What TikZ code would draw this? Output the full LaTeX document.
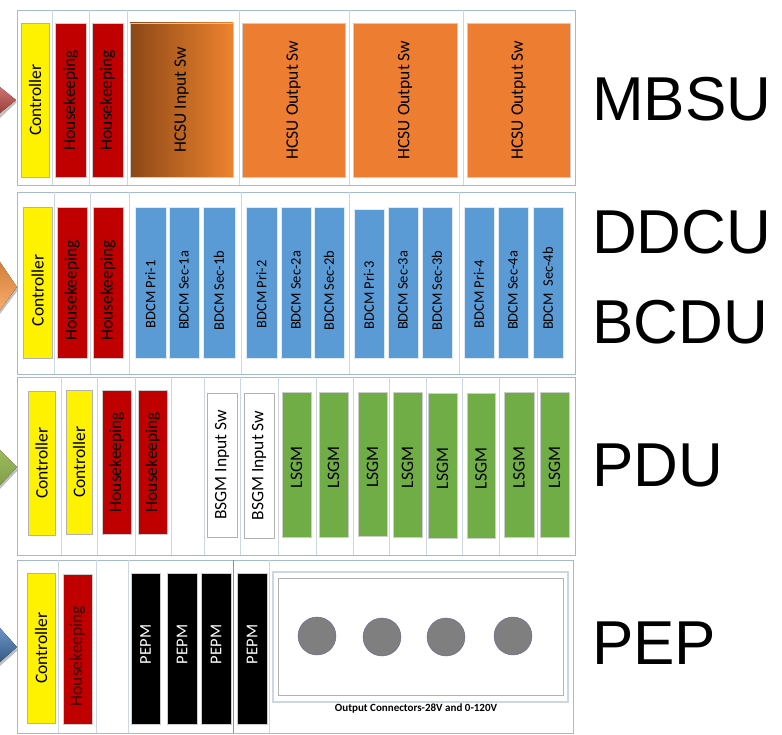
\documentclass[tikz,border=0pt]{standalone}
\usepackage{fontspec}
\setmainfont{Liberation Sans}
\newfontfamily\carl{Carlito}
\definecolor{framec}{RGB}{165,185,208}
\definecolor{divc}{RGB}{205,215,226}
\definecolor{hkred}{RGB}{192,0,0}
\definecolor{hcorange}{RGB}{237,125,49}
\definecolor{hcdark}{RGB}{140,72,22}
\definecolor{bdblue}{RGB}{91,155,213}
\definecolor{lsgreen}{RGB}{112,173,71}
\definecolor{conngray}{RGB}{127,127,127}
\definecolor{arrred}{RGB}{192,80,77}
\definecolor{arrorange}{RGB}{247,150,70}
\definecolor{arrgreen}{RGB}{155,187,89}
\definecolor{arrblue}{RGB}{79,129,189}

% \blk[text shift]{box style}{text style}{name}{x1}{y1}{x2}{y2}{text}
\newcommand\blk[9][0]{%
  \node[#2, minimum width={(#7-#5)*1pt}, minimum height={(#8-#6)*1pt}]
    (#4) at ({(#5+#7)/2},{(#6+#8)/2}) {};
  \node[lbl, #3, rotate=90] (#4-t) at ({(#5+#7)/2},{(#6+#8)/2+#1}) {#9};
}

\begin{document}
\begin{tikzpicture}[x=1pt,y=-1pt,
  frame/.style={draw=framec, line width=0.8pt},
  divline/.style={draw=divc, line width=0.7pt},
  modbox/.style={draw=black!20, line width=0.5pt, inner sep=0pt, outer sep=0pt},
  ctrl/.style={modbox, fill=yellow, draw=black!30},
  hk/.style={modbox, fill=hkred},
  hcin/.style={modbox, left color=hcdark, right color=hcorange!95!yellow},
  hcout/.style={modbox, fill=hcorange},
  bdcm/.style={modbox, fill=bdblue, draw=white!80!bdblue},
  bsgm/.style={modbox, fill=white, draw=black!30},
  lsgm/.style={modbox, fill=lsgreen, draw=black!20},
  pepm/.style={modbox, fill=black},
  lbl/.style={inner sep=0pt, font=\carl\fontsize{17.5}{17.5}\selectfont, text=black},
  small/.style={font=\carl\fontsize{14.5}{14.5}\selectfont},
  wtext/.style={text=white, font=\carl\fontsize{16.5}{16.5}\selectfont},
  bigname/.style={inner sep=0pt, anchor=west, font=\fontsize{62}{62}\selectfont},
  conn/.style={circle, fill=conngray, draw=conngray!80!blue, line width=0.4pt,
    minimum size=38pt, inner sep=0pt}
]
\useasboundingbox (0,0) rectangle (782,735);

% ---------- incoming arrow heads on the left edge ----------
\fill[black!25] (0,92) -- (17,102) -- (0,118) -- cycle;
\fill[top color=arrred!80, bottom color=arrred!80!black] (0,87) -- (16,100) -- (0,113) -- cycle;
\fill[black!25] (0,266) -- (18,290) -- (0,314) -- cycle;
\fill[top color=arrorange!85!black, bottom color=arrorange!80!white] (0,262) -- (17,287) -- (0,310) -- cycle;
\fill[black!25] (0,454) -- (18,470) -- (0,489) -- cycle;
\fill[top color=arrgreen, bottom color=arrgreen!85!black] (0,450) -- (17,467) -- (0,485) -- cycle;
\fill[black!25] (0,632) -- (18,650) -- (0,666) -- cycle;
\fill[top color=arrblue!85!white, bottom color=arrblue!70!black] (0,628) -- (17,647) -- (0,662) -- cycle;

% ---------- rack frames ----------
\draw[frame] (17,10) rectangle (575,185);
\foreach \x in {52,89,127,239,349,463} \draw[divline] (\x,10) -- (\x,185);
\draw[frame] (17,192) rectangle (575,374);
\foreach \x in {54,90,129,241,349,459} \draw[divline] (\x,192) -- (\x,374);
\draw[frame] (17,377) rectangle (575,555);
\foreach \x in {61,97,135,171,204,240,278,316,353,389,426,462,499,537} \draw[divline] (\x,377) -- (\x,555);
\draw[frame] (17,560) rectangle (573,733);
\foreach \x in {58,96,128,269} \draw[divline] (\x,560) -- (\x,733);
\draw[framec!80!black, line width=0.7pt] (233,560) -- (233,733);

% ---------- MBSU ----------
\blk{ctrl}{}{m1}{21}{23}{49}{177}{Controller}
\blk{hk}{}{m2}{55}{23}{86}{177}{Housekeeping}
\blk{hk}{}{m3}{92}{23}{123}{177}{Housekeeping}
\blk{hcin}{}{m4}{130}{23}{233}{177}{HCSU Input Sw}
\blk{hcout}{}{m5}{242}{23}{345}{177}{HCSU Output Sw}
\blk{hcout}{}{m6}{353}{23}{457}{177}{HCSU Output Sw}
\blk{hcout}{}{m7}{467}{23}{570}{177}{HCSU Output Sw}

% ---------- DDCU / BCDU ----------
\blk[8]{ctrl}{}{d1}{23}{207}{52}{358}{Controller}
\blk[8]{hk}{}{d2}{57}{207}{87}{358}{Housekeeping}
\blk[8]{hk}{}{d3}{93}{207}{123}{358}{Housekeeping}
\blk[12]{bdcm}{small}{d4}{135}{207}{166}{358}{BDCM Pri-1}
\blk[8]{bdcm}{small}{d5}{169}{207}{199}{358}{BDCM Sec-1a}
\blk[8]{bdcm}{small}{d6}{203}{207}{235}{358}{BDCM Sec-1b}
\blk[12]{bdcm}{small}{d7}{246}{207}{277}{358}{BDCM Pri-2}
\blk[8]{bdcm}{small}{d8}{281}{207}{311}{358}{BDCM Sec-2a}
\blk[8]{bdcm}{small}{d9}{314}{207}{344}{358}{BDCM Sec-2b}
\blk[12]{bdcm}{small}{d10}{354}{209}{384}{358}{BDCM Pri-3}
\blk[8]{bdcm}{small}{d11}{388}{207}{418}{358}{BDCM Sec-3a}
\blk[8]{bdcm}{small}{d12}{422}{207}{452}{358}{BDCM Sec-3b}
\blk[12]{bdcm}{small}{d13}{464}{207}{494}{358}{BDCM Pri-4}
\blk[8]{bdcm}{small}{d14}{498}{207}{528}{358}{BDCM Sec-4a}
\blk[6]{bdcm}{small}{d15}{533}{207}{563}{358}{BDCM\ \ Sec-4b}

% ---------- PDU ----------
\blk{ctrl}{}{p1}{28}{391}{55}{535}{Controller}
\blk{ctrl}{}{p2}{66}{390}{92}{534}{Controller}
\blk{hk}{}{p3}{102}{390}{131}{534}{Housekeeping}
\blk{hk}{}{p4}{138}{390}{167}{534}{Housekeeping}
\blk{bsgm}{}{p5}{207}{393}{237}{537}{BSGM Input Sw}
\blk{bsgm}{}{p6}{244}{393}{274}{538}{BSGM Input Sw}
\blk[3]{lsgm}{}{p7}{282}{392}{311}{537}{LSGM}
\blk[3]{lsgm}{}{p8}{319}{392}{348}{537}{LSGM}
\blk[3]{lsgm}{}{p9}{358}{392}{387}{536}{LSGM}
\blk[3]{lsgm}{}{p10}{393}{392}{422}{537}{LSGM}
\blk[3]{lsgm}{}{p11}{428}{393}{457}{538}{LSGM}
\blk[3]{lsgm}{}{p12}{467}{393}{495}{538}{LSGM}
\blk[3]{lsgm}{}{p13}{504}{392}{534}{537}{LSGM}
\blk[3]{lsgm}{}{p14}{540}{392}{569}{537}{LSGM}

% ---------- PEP ----------
\blk{ctrl}{}{e1}{27}{573}{55}{723}{Controller}
\blk[7]{hk}{text=hkred!30!black}{e2}{63}{574}{92}{724}{Housekeeping}
\blk[-4]{pepm}{wtext}{e3}{131}{573}{160}{724}{PEPM}
\blk[-4]{pepm}{wtext}{e4}{167}{573}{197}{724}{PEPM}
\blk[-4]{pepm}{wtext}{e5}{201}{573}{231}{724}{PEPM}
\blk[-4]{pepm}{wtext}{e6}{237}{573}{267}{724}{PEPM}

% output connector panel
\draw[draw=divc, line width=1.2pt] (273,572) rectangle (568,702);
\draw[draw=black!30, line width=0.7pt] (278,578) rectangle (563,695);
\node[conn] (c1) at (317,636) {};
\node[conn] (c2) at (382,637) {};
\node[conn] (c3) at (446,637) {};
\node[conn] (c4) at (513,636) {};
\node[inner sep=0pt, font=\carl\bfseries\fontsize{11}{11}\selectfont] (cap) at (416,709)
  {Output Connectors-28V and 0-120V};

% ---------- subsystem names ----------
\node[bigname] (nMBSU) at (592,99) {MBSU};
\node[bigname] (nDDCU) at (592,232) {DDCU};
\node[bigname] (nBCDU) at (592,322) {BCDU};
\node[bigname] (nPDU) at (592,465) {PDU};
\node[bigname] (nPEP) at (592,643) {PEP};
\end{tikzpicture}
\end{document}
